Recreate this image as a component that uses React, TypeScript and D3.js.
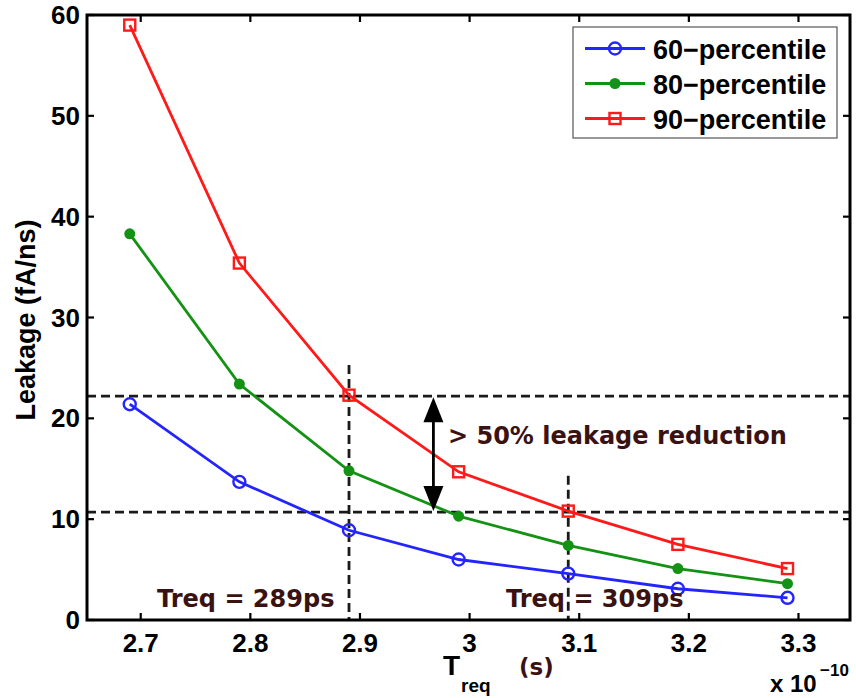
import React from 'react';
import * as d3 from 'd3';

// x values (units of 1e-10 s)
const treq = [2.69, 2.79, 2.89, 2.99, 3.09, 3.19, 3.29];
const p60 = [21.4, 13.7, 8.9, 6.0, 4.6, 3.1, 2.2];
const p80 = [38.3, 23.4, 14.8, 10.3, 7.4, 5.1, 3.6];
const p90 = [59.0, 35.4, 22.3, 14.7, 10.8, 7.5, 5.1];
const seriesNames = ['60\u2212percentile', '80\u2212percentile', '90\u2212percentile'];
const xTicks = [2.7, 2.8, 2.9, 3.0, 3.1, 3.2, 3.3];
const yTicks = [0, 10, 20, 30, 40, 50, 60];
const hLines = [22.2, 10.7];
const vLines = [
  { x: 2.89, top: 25.3 },
  { x: 3.09, top: 14.3 },
];

const W = 856;
const H = 698;
const M = { left: 87, right: 850, top: 15, bottom: 620 };
const FONT = '"Liberation Sans", Arial, Helvetica, sans-serif';
const NOTE_FONT = '"DejaVu Sans", Verdana, sans-serif';
const NOTE = '#3a1212';

const App = () => {
  const x = d3.scaleLinear([2.651, 3.347], [M.left, M.right]);
  const y = d3.scaleLinear([0, 60], [M.bottom, M.top]);
  const line = d3.line<number>().x((d, i) => x(treq[i])).y(d => y(d));

  const series = [
    { name: seriesNames[0], values: p60, color: '#2424ff', marker: 'circle' },
    { name: seriesNames[1], values: p80, color: '#149214', marker: 'dot' },
    { name: seriesNames[2], values: p90, color: '#ff1a1a', marker: 'square' },
  ];

  const marker = (m: string, cx: number, cy: number, color: string, key: string) => {
    if (m === 'circle')
      return <circle key={key} cx={cx} cy={cy} r={6} fill="none" stroke={color} strokeWidth={2.4} />;
    if (m === 'dot') return <circle key={key} cx={cx} cy={cy} r={5.5} fill={color} />;
    return <rect key={key} x={cx - 5.5} y={cy - 5.5} width={11} height={11} fill="none" stroke={color} strokeWidth={2.4} />;
  };

  const arrowX = x(2.967);
  const yTop = y(hLines[0]);
  const yBot = y(hLines[1]);

  return (
    <svg width={W} height={H} style={{ position: 'absolute', left: 0, top: 0 }} fontFamily={FONT}>
      <rect width={W} height={H} fill="#fff" />

      {/* dashed guides */}
      {hLines.map(v => (
        <line key={v} x1={M.left} x2={M.right} y1={y(v)} y2={y(v)} stroke="#1a1a1a" strokeWidth={2.8} strokeDasharray="9,5" />
      ))}
      {vLines.map(v => (
        <line key={v.x} x1={x(v.x)} x2={x(v.x)} y1={y(v.top)} y2={M.bottom} stroke="#1a1a1a" strokeWidth={2.8} strokeDasharray="9,5" />
      ))}

      {/* series */}
      {series.map(s => (
        <g key={s.name}>
          <path d={line(s.values) ?? ''} fill="none" stroke={s.color} strokeWidth={2.8} />
          {s.values.map((v, i) => marker(s.marker, x(treq[i]), y(v), s.color, s.name + i))}
        </g>
      ))}

      {/* double arrow */}
      <line x1={arrowX} x2={arrowX} y1={yTop + 14} y2={yBot - 14} stroke="#000" strokeWidth={2.8} />
      <path d={`M${arrowX},${yTop + 1} L${arrowX - 10},${yTop + 26} L${arrowX + 10},${yTop + 26} Z`} fill="#000" />
      <path d={`M${arrowX},${yBot - 1} L${arrowX - 10},${yBot - 26} L${arrowX + 10},${yBot - 26} Z`} fill="#000" />

      <text x={448} y={444} fontSize={24} fontWeight="bold" fill={NOTE} fontFamily={NOTE_FONT}>
        {'> 50% leakage reduction'}
      </text>
      <text x={157} y={607} fontSize={24} fontWeight="bold" fill={NOTE} fontFamily={NOTE_FONT}>
        Treq = 289ps
      </text>
      <text x={506} y={607} fontSize={24} fontWeight="bold" fill={NOTE} fontFamily={NOTE_FONT}>
        Treq = 309ps
      </text>

      {/* axes box */}
      <rect x={M.left} y={M.top} width={M.right - M.left} height={M.bottom - M.top} fill="none" stroke="#000" strokeWidth={3} />
      {xTicks.map(t => (
        <g key={t}>
          <line x1={x(t)} x2={x(t)} y1={M.bottom} y2={M.bottom - 7} stroke="#000" strokeWidth={2.2} />
          <line x1={x(t)} x2={x(t)} y1={M.top} y2={M.top + 7} stroke="#000" strokeWidth={2.2} />
          <text x={x(t)} y={652} textAnchor="middle" fontSize={26} fontWeight="bold">
            {d3.format('~g')(t)}
          </text>
        </g>
      ))}
      {yTicks.map(t => (
        <g key={t}>
          <line x1={M.left} x2={M.left + 7} y1={y(t)} y2={y(t)} stroke="#000" strokeWidth={2.2} />
          <line x1={M.right} x2={M.right - 7} y1={y(t)} y2={y(t)} stroke="#000" strokeWidth={2.2} />
          <text x={M.left - 7} y={y(t) + 9} textAnchor="end" fontSize={26} fontWeight="bold">
            {t}
          </text>
        </g>
      ))}

      {/* axis labels */}
      <text transform="translate(35,320) rotate(-90)" textAnchor="middle" fontSize={27} fontWeight="bold">
        Leakage (fA/ns)
      </text>
      <text x={443} y={675} fontSize={28} fontWeight="bold">T</text>
      <text x={461} y={692} fontSize={19} fontWeight="bold">req</text>
      <text x={519} y={675} fontSize={23} fontWeight="bold" fill={NOTE} fontFamily={NOTE_FONT}>(s)</text>
      <text x={770} y={692} fontSize={24} fontWeight="bold">x 10</text>
      <text x={820} y={676} fontSize={17} fontWeight="bold">{'\u221210'}</text>

      {/* legend */}
      <rect x={573} y={27} width={264} height={111} fill="#fff" stroke="#555" strokeWidth={1.2} />
      {series.map((s, i) => {
        const ly = 48.5 + i * 35;
        return (
          <g key={s.name}>
            <line x1={585} x2={645} y1={ly} y2={ly} stroke={s.color} strokeWidth={2.8} />
            {marker(s.marker, 615, ly, s.color, 'lg' + i)}
            <text x={653} y={ly + 10} fontSize={27} fontWeight="bold">{s.name}</text>
          </g>
        );
      })}
    </svg>
  );
};

export default App;
